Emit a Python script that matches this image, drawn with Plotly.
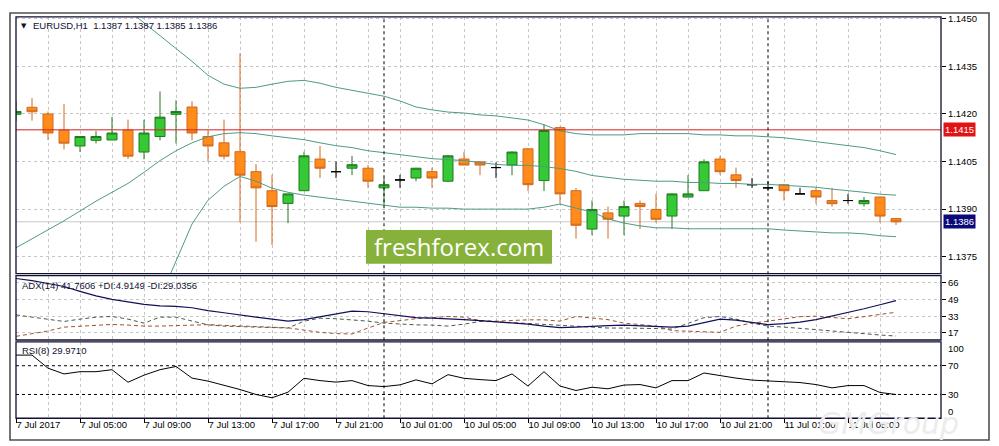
import plotly.graph_objects as go
import pandas as pd

# ---------------- data ----------------
times = list(pd.date_range("2017-07-07 01:00", "2017-07-07 23:00", freq="h")) + \
        list(pd.date_range("2017-07-10 00:00", "2017-07-11 08:00", freq="h"))

open_ = [1.14199, 1.14221, 1.14200, 1.14149, 1.14099, 1.14117, 1.14118, 1.14149, 1.14080, 1.14129,
         1.14199, 1.14222, 1.14129, 1.14109, 1.14081, 1.14018, 1.13958, 1.13918, 1.13958, 1.14058,
         1.14018, 1.14029, 1.14029, 1.13967, 1.13992, 1.13998, 1.14018, 1.13988, 1.14058, 1.14049,
         1.14031, 1.14039, 1.14090, 1.13990, 1.14157, 1.13958, 1.13837, 1.13888, 1.13878, 1.13918,
         1.13899, 1.13878, 1.13938, 1.13958, 1.14058, 1.14008, 1.13977, 1.13967, 1.13977, 1.13948,
         1.13958, 1.13927, 1.13927, 1.13917, 1.13938, 1.13870]
high = [1.14241, 1.14250, 1.14208, 1.14232, 1.14130, 1.14146, 1.14191, 1.14182, 1.14182, 1.14271,
        1.14243, 1.14240, 1.14149, 1.14182, 1.14391, 1.14042, 1.14008, 1.13948, 1.14081, 1.14099,
        1.14050, 1.14068, 1.14039, 1.13998, 1.14008, 1.14030, 1.14031, 1.14071, 1.14081, 1.14049,
        1.14047, 1.14082, 1.14092, 1.14167, 1.14160, 1.13967, 1.13927, 1.13908, 1.13927, 1.13927,
        1.13948, 1.13950, 1.14007, 1.14057, 1.14068, 1.14031, 1.13998, 1.13988, 1.13980, 1.13967,
        1.13967, 1.13967, 1.13948, 1.13938, 1.13940, 1.13870]
low = [1.14178, 1.14179, 1.14118, 1.14088, 1.14080, 1.14107, 1.14118, 1.14058, 1.14057, 1.14117,
       1.14107, 1.14117, 1.14049, 1.14057, 1.13859, 1.13797, 1.13787, 1.13856, 1.13958, 1.13998,
       1.13998, 1.14007, 1.13967, 1.13912, 1.13967, 1.13988, 1.13967, 1.13985, 1.14039, 1.14007,
       1.13998, 1.14007, 1.13957, 1.13957, 1.13917, 1.13807, 1.13818, 1.13807, 1.13818, 1.13837,
       1.13858, 1.13837, 1.13938, 1.13958, 1.14009, 1.13967, 1.13967, 1.13958, 1.13927, 1.13948,
       1.13917, 1.13908, 1.13917, 1.13908, 1.13858, 1.13850]
close = [1.14208, 1.14207, 1.14140, 1.14108, 1.14129, 1.14129, 1.14140, 1.14067, 1.14140, 1.14190,
         1.14208, 1.14140, 1.14099, 1.14067, 1.14007, 1.13967, 1.13908, 1.13948, 1.14068, 1.14029,
         1.14018, 1.14040, 1.13988, 1.13977, 1.13992, 1.14029, 1.13998, 1.14068, 1.14039, 1.14039,
         1.14031, 1.14080, 1.13977, 1.14148, 1.13948, 1.13849, 1.13899, 1.13868, 1.13908, 1.13908,
         1.13868, 1.13948, 1.13948, 1.14049, 1.14018, 1.13990, 1.13977, 1.13967, 1.13958, 1.13948,
         1.13938, 1.13917, 1.13927, 1.13927, 1.13878, 1.13860]

bb_upper = [None] * 7 + [
    1.14528, 1.14488, 1.14447, 1.14406, 1.14366, 1.14322, 1.14294, 1.14281, 1.14284, 1.14294,
    1.14303, 1.14306, 1.14297, 1.14284, 1.14275, 1.14266, 1.14256, 1.14241, 1.14222, 1.14213,
    1.14206, 1.14203, 1.14197, 1.14194, 1.14188, 1.14181, 1.14166, 1.14147, 1.14138, 1.14134,
    1.14134, 1.14134, 1.14138, 1.14138, 1.14138, 1.14138, 1.14134, 1.14134, 1.14131, 1.14131,
    1.14128, 1.14125, 1.14119, 1.14113, 1.14106, 1.14100, 1.14094, 1.14084, 1.14072]
bb_middle = [1.13778, 1.13806, 1.13834, 1.13863, 1.13894, 1.13925, 1.13953, 1.13981, 1.14016, 1.14053,
             1.14084, 1.14109, 1.14128, 1.14138, 1.14141, 1.14138, 1.14131, 1.14125, 1.14119, 1.14109,
             1.14100, 1.14094, 1.14084, 1.14078, 1.14072, 1.14066, 1.14059, 1.14056, 1.14053, 1.14047,
             1.14041, 1.14038, 1.14038, 1.14034, 1.14028, 1.14019, 1.14006, 1.14000, 1.13994, 1.13991,
             1.13988, 1.13988, 1.13984, 1.13984, 1.13981, 1.13981, 1.13978, 1.13978, 1.13975, 1.13972,
             1.13969, 1.13963, 1.13959, 1.13953, 1.13947, 1.13944]
bb_lower = [None] * 9 + [
    1.13619, 1.13734, 1.13853, 1.13928, 1.13972, 1.14003, 1.13988, 1.13966, 1.13953, 1.13944,
    1.13938, 1.13931, 1.13925, 1.13919, 1.13913, 1.13906, 1.13906, 1.13903, 1.13903, 1.13900,
    1.13900, 1.13900, 1.13900, 1.13900, 1.13906, 1.13916, 1.13903, 1.13891, 1.13869, 1.13856,
    1.13847, 1.13841, 1.13841, 1.13838, 1.13838, 1.13838, 1.13838, 1.13838, 1.13838, 1.13834,
    1.13831, 1.13828, 1.13825, 1.13825, 1.13822, 1.13816, 1.13813]

adx = [69.9, 67.9, 65.0, 62.1, 57.3, 53.0, 49.6, 47.2, 44.7, 43.3,
       42.8, 41.4, 38.5, 36.5, 34.1, 32.2, 30.3, 28.3, 29.8, 32.7,
       35.6, 38.0, 37.5, 35.6, 33.1, 31.7, 31.2, 30.7, 29.8, 28.8,
       27.8, 26.4, 25.4, 23.5, 22.0, 22.5, 23.5, 24.0, 24.5, 24.0,
       23.0, 22.5, 23.5, 26.9, 30.3, 29.3, 26.9, 24.9, 25.9, 27.4,
       29.8, 33.1, 36.5, 40.4, 44.3, 48.3]
plus_di = [34.4, 32.2, 29.8, 28.0, 30.3, 32.2, 32.9, 30.3, 26.4, 32.2,
           32.2, 28.3, 24.7, 23.5, 23.0, 22.5, 22.0, 21.6, 28.3, 31.2,
           30.7, 29.8, 28.3, 26.4, 25.4, 24.7, 24.5, 23.5, 25.4, 28.0,
           27.8, 26.9, 25.9, 25.4, 24.5, 23.0, 22.0, 21.6, 21.6, 21.6,
           21.1, 20.6, 26.4, 31.7, 32.9, 30.3, 26.4, 23.5, 22.5, 21.6,
           20.1, 18.7, 17.2, 15.8, 14.8, 13.8]
minus_di = [13.5, 15.8, 18.7, 22.5, 23.5, 24.5, 25.1, 24.5, 23.5, 23.5,
            24.0, 24.5, 24.9, 24.2, 23.5, 23.0, 22.5, 21.8, 19.6, 17.4,
            16.2, 15.8, 21.6, 27.1, 28.8, 30.7, 31.7, 32.9, 32.2, 28.8,
            28.3, 29.3, 29.6, 29.6, 28.3, 32.9, 31.7, 29.8, 26.4, 24.7,
            23.5, 19.1, 18.7, 17.7, 17.4, 23.5, 26.4, 28.3, 30.3, 32.7,
            33.1, 31.7, 30.7, 32.7, 35.1, 37.0]
rsi = [84.8, 84.8, 66.6, 58.6, 61.7, 61.7, 64.5, 47.0, 56.9, 64.5,
       69.0, 52.8, 48.6, 43.1, 36.9, 30.0, 25.4, 33.2, 52.5, 49.3,
       47.2, 49.3, 42.4, 41.0, 43.4, 50.3, 44.8, 57.6, 52.5, 50.7,
       49.3, 58.6, 41.7, 61.7, 41.7, 35.5, 40.1, 37.9, 43.1, 43.8,
       39.2, 49.3, 49.3, 59.9, 56.2, 52.8, 50.0, 48.6, 47.2, 46.6,
       43.8, 39.2, 42.4, 42.4, 32.8, 29.97]

price_ticks = [1.1375, 1.1390, 1.1405, 1.1420, 1.1435, 1.1450]
adx_ticks = [17, 33, 49, 66]
rsi_levels = [30, 70]
level_line = 1.1415
bid_price = 1.1386

title_main = "EURUSD,H1  1.1387 1.1387 1.1385 1.1386"
title_adx = "ADX(14) 41.7606 +DI:4.9149 -DI:29.0356"
title_rsi = "RSI(8) 29.9710"

# ---------------- derived ----------------
n = len(times)
idx = list(range(n))
label_idx = list(range(0, n, 4))
label_txt = ["7 Jul 2017" if i == 0 else f"{times[i].day} {times[i]:%b %H:%M}" for i in label_idx]
minor_idx = [i for i in range(0, n, 2) if i % 4 != 0]
day_breaks = [i for i in range(1, n) if times[i].date() != times[i - 1].date()]

norm = [i for i in idx if open_[i] != close[i]]
doji = [i for i in idx if open_[i] == close[i]]

# page body has an 8px margin: the figure covers page pixels 8..999 x 8..446
OFF = 8
W, H = 999 - OFF, 446 - OFF
def px(x): return (x - OFF) / W
def py(y): return 1 - (y - OFF) / H

FONT = "Liberation Sans"
GRID = "#c6c6c6"
GD = "3px,3px"
BAND = "#4f9a86"

fig = go.Figure()

fig.add_trace(go.Candlestick(
    x=[idx[i] for i in norm], open=[open_[i] for i in norm], high=[high[i] for i in norm],
    low=[low[i] for i in norm], close=[close[i] for i in norm],
    increasing=dict(fillcolor="#35c935", line=dict(color="#1f7a1f", width=1)),
    decreasing=dict(fillcolor="#ff8c1a", line=dict(color="#d2691e", width=1)),
    xaxis="x", yaxis="y", hoverinfo="skip"))
fig.add_trace(go.Candlestick(
    x=[idx[i] for i in doji], open=[open_[i] for i in doji], high=[high[i] for i in doji],
    low=[low[i] for i in doji], close=[close[i] for i in doji],
    increasing=dict(fillcolor="black", line=dict(color="black", width=1)),
    decreasing=dict(fillcolor="black", line=dict(color="black", width=1)),
    xaxis="x", yaxis="y", hoverinfo="skip"))

for band in (bb_upper, bb_middle, bb_lower):
    fig.add_trace(go.Scatter(x=idx, y=band, mode="lines", line=dict(color=BAND, width=1),
                             xaxis="x", yaxis="y", hoverinfo="skip", connectgaps=False))

fig.add_trace(go.Scatter(x=idx, y=plus_di, mode="lines", line=dict(color="#4a5a4a", width=1, dash="4px,3px"),
                         xaxis="x2", yaxis="y2", hoverinfo="skip"))
fig.add_trace(go.Scatter(x=idx, y=minus_di, mode="lines", line=dict(color="#a0522d", width=1, dash="4px,3px"),
                         xaxis="x2", yaxis="y2", hoverinfo="skip"))
fig.add_trace(go.Scatter(x=idx, y=adx, mode="lines", line=dict(color="#10105a", width=1.2),
                         xaxis="x2", yaxis="y2", hoverinfo="skip"))

fig.add_trace(go.Scatter(x=idx, y=rsi, mode="lines", line=dict(color="black", width=1),
                         xaxis="x3", yaxis="y3", hoverinfo="skip"))

xr = [0, (941 - 16) / 16]
xcommon = dict(domain=[px(16), px(941)], range=xr, tickmode="array", tickvals=label_idx,
               showgrid=True, gridcolor=GRID, griddash=GD, gridwidth=1, zeroline=False,
               showline=False, fixedrange=True,
               minor=dict(tickmode="array", tickvals=minor_idx, showgrid=True,
                          gridcolor=GRID, griddash=GD, ticks=""))

fig.update_layout(
    width=W, height=H, margin=dict(l=0, r=0, t=0, b=0),
    paper_bgcolor="white", plot_bgcolor="white", showlegend=False, hovermode=False,
    font=dict(family=FONT, size=9.5, color="black"),
    boxgap=0.375, boxgroupgap=0,
    xaxis=dict(**xcommon, anchor="y", matches="x3", showticklabels=False, ticks="",
               rangeslider=dict(visible=False)),
    xaxis2=dict(**xcommon, anchor="y2", matches="x3", showticklabels=False, ticks=""),
    xaxis3=dict(**xcommon, anchor="y3", ticktext=label_txt, ticks="outside", ticklen=4,
                tickcolor="black", ticklabelposition="outside right", ticklabelstandoff=-3,
                tickfont=dict(family=FONT, size=9.5, color="black")),
    yaxis=dict(domain=[py(272), py(13)], anchor="x", side="right",
               range=[1.14506 - (272 - 13) / 32000, 1.14506],
               tickvals=price_ticks, tickformat=".4f", ticks="outside", ticklen=4, tickcolor="black",
               showgrid=True, gridcolor=GRID, griddash=GD, zeroline=False, fixedrange=True),
    yaxis2=dict(domain=[py(339), py(274)], anchor="x2", side="right", range=[9.96, 72.76],
                tickvals=adx_ticks, ticks="outside", ticklen=4, tickcolor="black",
                showgrid=True, gridcolor=GRID, griddash=GD, zeroline=False, fixedrange=True),
    yaxis3=dict(domain=[py(418), py(341)], anchor="x3", side="right", range=[-3.1, 103.1],
                tickvals=rsi_levels, ticks="outside", ticklen=4, tickcolor="black",
                showgrid=False, zeroline=False, fixedrange=True),
)

shapes = []
# level and bid lines
shapes.append(dict(type="line", xref="x domain", yref="y", x0=0, x1=1, y0=level_line, y1=level_line,
                   line=dict(color="#d41e1e", width=1), layer="above"))
shapes.append(dict(type="line", xref="x domain", yref="y", x0=0, x1=1, y0=bid_price, y1=bid_price,
                   line=dict(color="#c8c8c8", width=1), layer="below"))
# RSI levels
for lv in rsi_levels:
    shapes.append(dict(type="line", xref="x3 domain", yref="y3", x0=0, x1=1, y0=lv, y1=lv,
                       line=dict(color="black", width=1, dash="3px,3px")))
# day separators
for b in day_breaks:
    shapes.append(dict(type="line", xref="x", yref="paper", x0=b, x1=b, y0=py(418), y1=py(13),
                       line=dict(color="black", width=1, dash="3px,3px"), layer="above"))
# panel frames
for (t, bt) in [(13, 272), (274, 339), (341, 418)]:
    shapes.append(dict(type="rect", xref="paper", yref="paper", x0=px(16), x1=px(941),
                       y0=py(bt), y1=py(t), line=dict(color="#101030", width=1.3), layer="above"))
# outer window frame
shapes.append(dict(type="rect", xref="paper", yref="paper", x0=px(10), x1=px(989),
                   y0=py(440), y1=py(9), line=dict(color="#505050", width=1.6)))
# watermark box
shapes.append(dict(type="rect", xref="paper", yref="paper", x0=px(366), x1=px(552),
                   y0=py(262), y1=py(228), fillcolor="#86b13a", line=dict(width=0), layer="above"))
fig.update_layout(shapes=shapes)

ann = []
ann.append(dict(text="▼", xref="paper", yref="paper", x=px(19), y=py(22), xanchor="left", yanchor="middle",
                showarrow=False, font=dict(family="DejaVu Sans", size=7, color="#101030")))
ann.append(dict(text=title_main, xref="paper", yref="paper", x=px(31), y=py(22), xanchor="left",
                yanchor="middle", showarrow=False, font=dict(family=FONT, size=9.5, color="#101030")))
ann.append(dict(text=title_adx, xref="paper", yref="paper", x=px(20), y=py(284), xanchor="left",
                yanchor="middle", showarrow=False, font=dict(family=FONT, size=9.5, color="#101030")))
ann.append(dict(text=title_rsi, xref="paper", yref="paper", x=px(20), y=py(350), xanchor="left",
                yanchor="middle", showarrow=False, font=dict(family=FONT, size=9.5, color="#101030")))
ann.append(dict(text="100", xref="paper", yref="paper", x=px(946), y=py(348), xanchor="left",
                yanchor="middle", showarrow=False, font=dict(family=FONT, size=9.5, color="black")))
ann.append(dict(text="0", xref="paper", yref="paper", x=px(946), y=py(411), xanchor="left",
                yanchor="middle", showarrow=False, font=dict(family=FONT, size=9.5, color="black")))
ann.append(dict(text=f"{level_line:.4f}", xref="paper", yref="y", x=px(943), y=level_line, xanchor="left",
                yanchor="middle", showarrow=False, bgcolor="#e01414", borderpad=1,
                font=dict(family=FONT, size=9.5, color="white")))
ann.append(dict(text=f"{bid_price:.4f}", xref="paper", yref="y", x=px(943), y=bid_price, xanchor="left",
                yanchor="middle", showarrow=False, bgcolor="#0a0a78", borderpad=1,
                font=dict(family=FONT, size=9.5, color="white")))
ann.append(dict(text="freshforex.com", xref="paper", yref="paper", x=px(459), y=py(245), xanchor="center",
                yanchor="middle", showarrow=False, font=dict(family="Open Sans", size=24, color="white")))
ann.append(dict(text="<i>GMGroup</i>", xref="paper", yref="paper", x=px(888), y=py(423), xanchor="center",
                yanchor="middle", showarrow=False, font=dict(family="DejaVu Sans", size=30, color="#ececec")))
fig.update_layout(annotations=ann)

fig.write_html("out.html")
